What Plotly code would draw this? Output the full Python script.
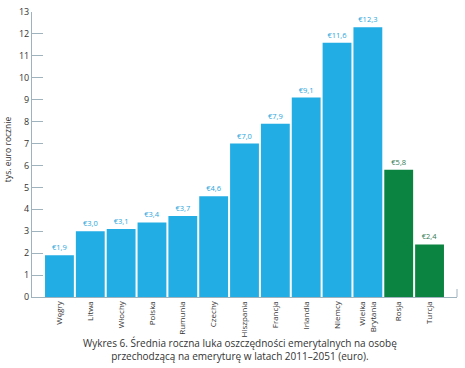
import plotly.graph_objects as go

countries = ["Węgry", "Litwa", "Włochy", "Polska", "Rumunia", "Czechy", "Hiszpania",
             "Francja", "Irlandia", "Niemcy", "Wielka<br>Brytania", "Rosja", "Turcja"]
values = [1.9, 3.0, 3.1, 3.4, 3.7, 4.6, 7.0, 7.9, 9.1, 11.6, 12.3, 5.8, 2.4]
groups = ["eu"] * 11 + ["non"] * 2
y_ticks = list(range(0, 14))

BLUE = "#22ade4"
GREEN = "#0b8441"
colors = [BLUE if g == "eu" else GREEN for g in groups]
label_colors = ["#2aa6dc" if g == "eu" else "#2f7a52" for g in groups]
labels = ["€" + f"{v:.1f}".replace(".", ",") for v in values]
xpos = list(range(len(values)))

fig = go.Figure()
fig.add_trace(go.Bar(
    x=xpos, y=values, marker=dict(color=colors, line=dict(width=0)),
    text=labels, textposition="outside", cliponaxis=False,
    textfont=dict(size=7.5, color=label_colors, family="Open Sans"),
    hoverinfo="skip",
))

fig.update_layout(
    width=465, height=368,
    margin=dict(l=32, r=8, t=12, b=71, autoexpand=False),
    paper_bgcolor="white", plot_bgcolor="white",
    bargap=0.065, showlegend=False,
    font=dict(family="Open Sans", color="#333333"),
    xaxis=dict(
        range=[-0.89, 12.89], tickmode="array", tickvals=xpos, ticktext=countries,
        tickangle=-90, tickfont=dict(size=8, color="#333333"), ticks="",
        showline=True, linecolor="#9fb3bf", linewidth=1, showgrid=False, zeroline=False,
        automargin=False,
    ),
    yaxis=dict(
        range=[0, 13], tickmode="array", tickvals=y_ticks,
        tickfont=dict(size=9, color="#333333"), ticks="inside", ticklen=11,
        tickcolor="#9fb3bf", showline=True, linecolor="#9fb3bf", linewidth=1,
        showgrid=False, zeroline=False, automargin=False,
    ),
)

fig.add_shape(type="line", xref="paper", yref="paper", x0=1, x1=1, y0=0, y1=0.028,
              line=dict(color="#9fb3bf", width=1))

fig.add_annotation(
    xref="paper", yref="paper", x=-0.058, y=0.52, xanchor="center", yanchor="middle",
    text="tys. euro rocznie", textangle=-90, showarrow=False,
    font=dict(size=8.5, color="#333333", family="Open Sans"),
)

fig.add_annotation(
    xref="paper", yref="paper", x=0.49, y=-0.13, xanchor="center", yanchor="top",
    text="Wykres 6. Średnia roczna luka oszczędności emerytalnych na osobę<br>"
         "przechodzącą na emeryturę w latach 2011–2051 (euro).",
    showarrow=False, align="center", font=dict(size=10, color="#333333", family="Open Sans"),
)

fig.write_html("out.html", config={"displayModeBar": False},
               post_script="document.body.style.margin='0';document.body.style.overflow='hidden';")
